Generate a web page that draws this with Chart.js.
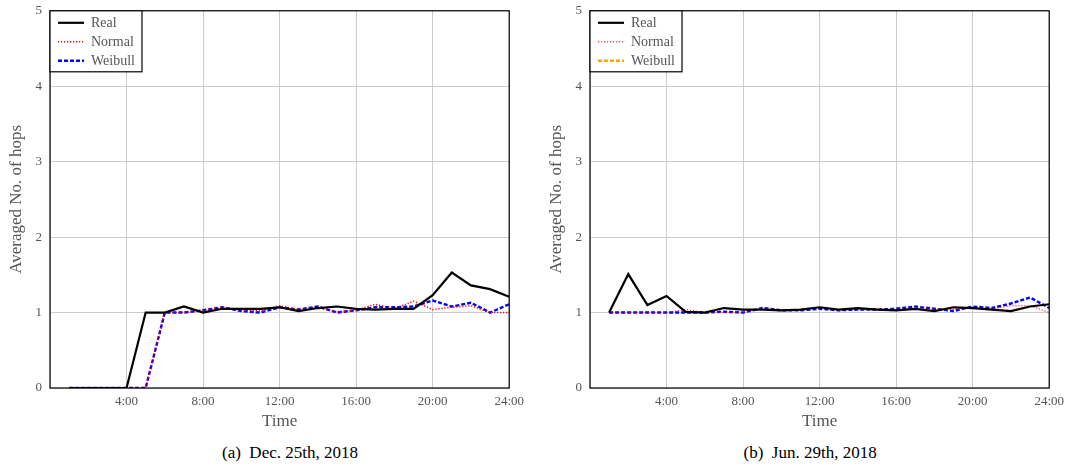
<!DOCTYPE html>
<html>
<head>
<meta charset="utf-8">
<script src="https://cdn.jsdelivr.net/npm/chart.js@4.4.0/dist/chart.umd.min.js"></script>
<style>
  body { margin: 0; background: #fff; width: 1070px; height: 469px; position: relative; overflow: hidden; }
  canvas { position: absolute; top: -5px; }
  #dec { left: 0; }
  #jun { left: 540px; }
  .cap { position: absolute; top: 443px; font-family: "Liberation Serif", serif; font-size: 17px; color: #000; white-space: nowrap; }
</style>
</head>
<body>
<canvas id="dec" width="530" height="437"></canvas>
<canvas id="jun" width="530" height="437"></canvas>
<div class="cap" id="capA">(a)&nbsp; Dec. 25th, 2018</div>
<div class="cap" id="capB">(b)&nbsp; Jun. 29th, 2018</div>
<script>
// horas del día (eje x)
const hours = [1, 2, 3, 4, 5, 6, 7, 8, 9, 10, 11, 12, 13, 14, 15, 16, 17, 18, 19, 20, 21, 22, 23, 24];
const xTickLabels = ['4:00', '8:00', '12:00', '16:00', '20:00', '24:00'];
const seriesNames = ['Real', 'Normal', 'Weibull'];

// (a) Dec. 25th, 2018
const decReal    = [0, 0, 0, 0, 1.0, 1.0, 1.08, 1.0, 1.05, 1.05, 1.05, 1.07, 1.02, 1.06, 1.08, 1.05, 1.04, 1.05, 1.05, 1.23, 1.53, 1.36, 1.31, 1.21];
const decNormal  = [0, 0, 0, 0, 0, 1.0, 1.0, 1.03, 1.07, 1.03, 1.02, 1.09, 1.04, 1.07, 1.01, 1.03, 1.11, 1.05, 1.15, 1.04, 1.07, 1.09, 1.0, 1.0];
const decWeibull = [0, 0, 0, 0, 0, 1.0, 1.0, 1.03, 1.07, 1.02, 1.0, 1.07, 1.04, 1.08, 1.0, 1.03, 1.07, 1.07, 1.08, 1.16, 1.08, 1.13, 1.0, 1.11];

// (b) Jun. 29th, 2018
const junReal    = [1.0, 1.51, 1.10, 1.22, 1.01, 1.0, 1.06, 1.04, 1.04, 1.03, 1.04, 1.07, 1.04, 1.06, 1.04, 1.03, 1.05, 1.02, 1.07, 1.06, 1.04, 1.02, 1.08, 1.11];
const junNormal  = [1.0, 1.0, 1.0, 1.0, 1.04, 1.0, 1.0, 1.0, 1.05, 1.04, 1.03, 1.07, 1.03, 1.05, 1.05, 1.04, 1.06, 1.05, 1.04, 1.06, 1.05, 1.09, 1.09, 1.0];
const junWeibull = [1.0, 1.0, 1.0, 1.0, 1.0, 1.0, 1.01, 1.0, 1.06, 1.03, 1.03, 1.05, 1.03, 1.04, 1.04, 1.05, 1.08, 1.05, 1.02, 1.08, 1.06, 1.12, 1.20, 1.06];

const tickFont = { family: 'Liberation Serif', size: 13 };
const tickColor = '#555';

function pts(values) {
    return hours.map((h, i) => ({ x: h, y: values[i] }));
}

// marco negro alrededor del área + leyenda en caja
const framePlugin = {
    id: 'frame',
    afterDraw(chart) {
        const ctx = chart.ctx;
        const a = chart.chartArea;
        ctx.save();
        ctx.strokeStyle = '#000';
        ctx.lineWidth = 1.2;
        ctx.strokeRect(a.left, a.top, a.right - a.left, a.bottom - a.top);

        const opts = chart.options.plugins.frame;
        const bx = a.left, by = a.top, bw = 92, bh = 61;
        ctx.fillStyle = '#fff';
        ctx.fillRect(bx, by, bw, bh);
        ctx.strokeRect(bx, by, bw, bh);
        chart.data.datasets.forEach((ds, i) => {
            const y = by + 12 + i * 19;
            ctx.beginPath();
            ctx.strokeStyle = opts.colors[i];
            ctx.lineWidth = ds.borderWidth;
            ctx.setLineDash(ds.borderDash || []);
            ctx.moveTo(bx + 8, y);
            ctx.lineTo(bx + 34, y);
            ctx.stroke();
            ctx.setLineDash([]);
            ctx.fillStyle = tickColor;
            ctx.font = '14px "Liberation Serif"';
            ctx.textBaseline = 'middle';
            ctx.fillText(ds.label, bx + 41, y + 1);
        });
        ctx.restore();
    }
};

function makeChart(id, real, normal, weibull, legendColors, normalWidth, padRight) {
    const ctx = document.getElementById(id).getContext('2d');
    return new Chart(ctx, {
        type: 'line',
        data: {
            datasets: [
                { label: seriesNames[0], data: pts(real), borderColor: '#000', borderWidth: 2.2, pointRadius: 0, tension: 0 },
                { label: seriesNames[1], data: pts(normal), borderColor: '#ff0000', borderWidth: normalWidth, borderDash: [1.2, 1.8], pointRadius: 0, tension: 0 },
                { label: seriesNames[2], data: pts(weibull), borderColor: '#0000ff', borderWidth: 2.4, borderDash: [4, 2], pointRadius: 0, tension: 0 }
            ]
        },
        options: {
            responsive: false,
            animation: false,
            layout: { padding: { top: 4, right: padRight, bottom: 0, left: 0 } },
            scales: {
                x: {
                    type: 'linear', min: 0, max: 24,
                    border: { display: false },
                    grid: { color: '#cccccc', lineWidth: 1, drawTicks: false },
                    ticks: {
                        stepSize: 4, padding: 6, color: tickColor, font: tickFont, maxRotation: 0,
                        callback: v => (v === 0 ? '' : xTickLabels[v / 4 - 1])
                    },
                    title: { display: true, text: 'Time', color: tickColor, font: { family: 'Liberation Serif', size: 17 }, padding: { top: 0, bottom: 0 } },
                    afterFit: s => { s.height = 44; }
                },
                y: {
                    min: 0, max: 5,
                    border: { display: false },
                    grid: { color: '#cccccc', lineWidth: 1, drawTicks: false },
                    ticks: { stepSize: 1, padding: 8, color: tickColor, font: tickFont },
                    title: { display: true, text: 'Averaged No. of hops', color: tickColor, font: { family: 'Liberation Serif', size: 17 }, padding: { top: 6, bottom: 0 } },
                    afterFit: s => { s.width = 50; }
                }
            },
            plugins: {
                legend: { display: false },
                tooltip: { enabled: false },
                frame: { colors: legendColors }
            }
        },
        plugins: [framePlugin]
    });
}

makeChart('dec', decReal, decNormal, decWeibull, ['#000', '#ff0000', '#0000ff'], 1.6, 19);
makeChart('jun', junReal, junNormal, junWeibull, ['#000', '#ff0000', '#ffa500'], 1.0, 20);

// centrar pies de figura
const capA = document.getElementById('capA');
const capB = document.getElementById('capB');
capA.style.left = (290 - capA.offsetWidth / 2) + 'px';
capB.style.left = (810 - capB.offsetWidth / 2) + 'px';
</script>
</body>
</html>
